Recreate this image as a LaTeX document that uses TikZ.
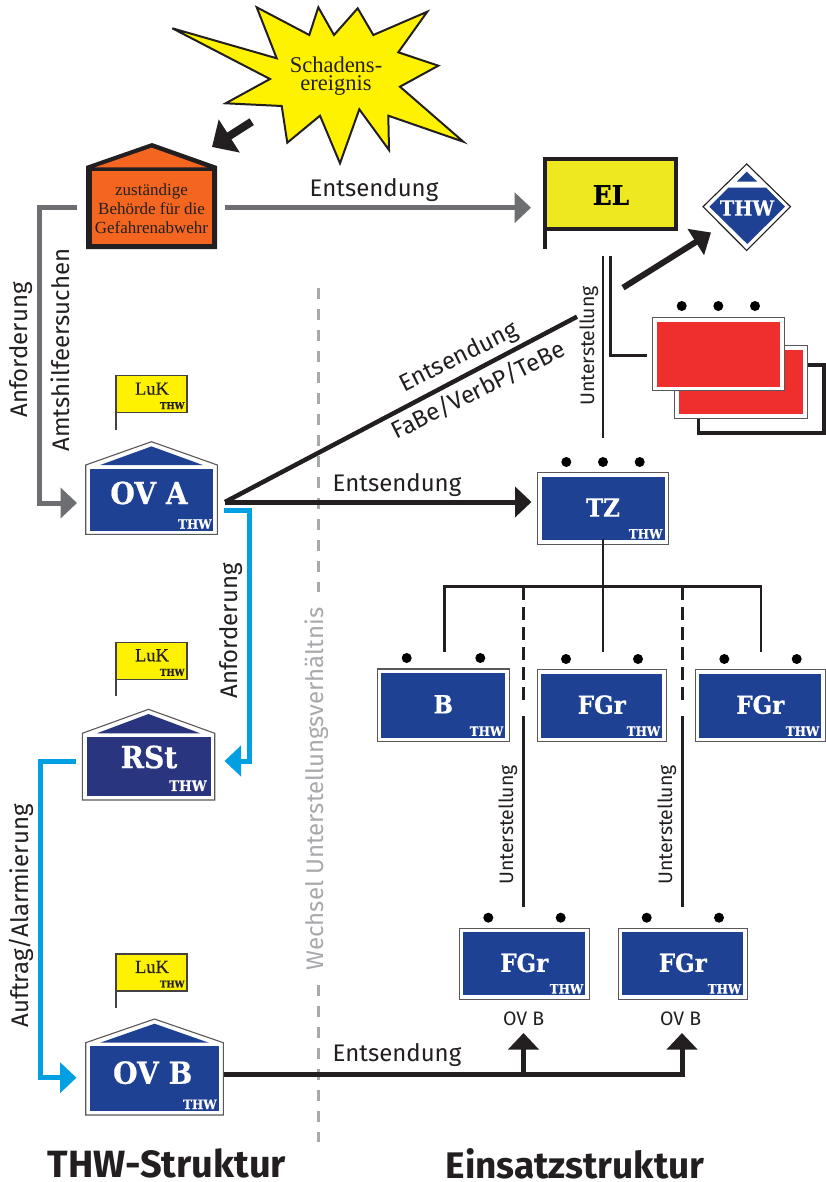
\documentclass[tikz,border=0pt]{standalone}
\usepackage{fontspec}
\usetikzlibrary{arrows.meta,calc}
\setmainfont{Fira Sans}
\newfontfamily\slabfont{DejaVu Serif}[FakeStretch=0.92,FakeBold=0.6]
\newfontfamily\bookfont{Liberation Serif}
\newfontfamily\lukfont{Liberation Serif}[FakeBold=0.25]
\newcommand{\fsz}[1]{\fontsize{#1}{#1}\selectfont}
\definecolor{ink}{HTML}{231F20}
\definecolor{thwblue}{HTML}{1F4194}
\definecolor{rstblue}{HTML}{2A3580}
\definecolor{greyline}{HTML}{6D6E71}
\definecolor{dashgrey}{HTML}{A7A9AC}
\definecolor{cyanline}{HTML}{00A0E3}
\definecolor{flagyellow}{HTML}{FFF200}
\definecolor{elyellow}{HTML}{EDE81F}
\definecolor{alarmred}{HTML}{EF2F2D}
\definecolor{orangefill}{HTML}{F4661F}
\tikzset{
  x=1pt,y=-1pt,
  every node/.style={inner sep=0pt,outer sep=0pt,text=ink},
  lbl/.style={font=\fsz{24},anchor=center},
  smalllbl/.style={font=\fsz{19.5},anchor=center},
  slab/.style={font=\slabfont\bfseries\fsz{#1},text=white,anchor=center},
  thwtag/.style={font=\slabfont\bfseries\fsz{13},text=white,anchor=east},
  thwarrow/.style={line width=#1,line cap=butt,line join=miter},
  tipbig/.style={-{Triangle[length=16.5pt,width=30pt]}},
  frameouter/.style={draw=ink!75,line width=1.1pt,fill=white},
  dotmark/.style={circle,fill=black,minimum size=10pt},
  greydash/.style={dashgrey,line width=3pt,dash pattern=on 11pt off 10pt},
  treeline/.style={ink,line width=2.8pt,line join=miter},
  treedash/.style={ink,line width=2.8pt,dash pattern=on 13pt off 7pt},
}
% centre x, centre y, width, height, name, label
\newcommand{\thwunit}[6]{%
  \node[frameouter,minimum width=#3pt,minimum height=#4pt] (#5) at (#1,#2) {};
  \node[fill=thwblue,minimum width=#3pt-8pt,minimum height=#4pt-8pt] (#5in) at (#1,#2) {};
  \node[slab=25] (#5lab) at ($(#5.center)+(0,-1)$) {#6};
  \node[thwtag] (#5tag) at ($(#5in.south east)+(-2,-6.5)$) {THW};
}
% centre x, apex y, eave y, bottom y, half width, name, colour
\newcommand{\thwhouse}[7]{%
  \draw[frameouter] (#1-#5,#3) -- (#1,#2) -- (#1+#5,#3) -- (#1+#5,#4) -- (#1-#5,#4) -- cycle;
  \fill[#7] (#1-#5+14.5,#3) -- (#1,#2+4.7) -- (#1+#5-14.5,#3) -- cycle;
  \path let \n1={#4-#3-7.4} in node[fill=#7,minimum width={(#5-4.2)*2*1pt},minimum height=\n1 pt] (#6) at (#1,{(#3+#4)/2}) {};
}
% left x, top y, name
\newcommand{\lukflag}[3]{%
  \draw[ink!85,line width=1.4pt] (#1,#2) -- (#1,#2+54);
  \node[draw=ink!85,line width=1.2pt,fill=flagyellow,anchor=north west,minimum width=71pt,minimum height=37pt] (#3) at (#1,#2) {};
  \node[font=\lukfont\fsz{18.5},anchor=center] at (#1+36,#2+13) {LuK};
  \node[font=\slabfont\bfseries\fsz{9.5},anchor=east] at (#1+68.5,#2+30) {THW};
}
\begin{document}
\begin{tikzpicture}
\useasboundingbox (0,0) rectangle (826,1182);
\fill[white] (0,0) rectangle (826,1182);

% centre dashed line
\coordinate (vtop) at (318,288);
\coordinate (vmid1) at (318,592);
\coordinate (vmid2) at (318,985);
\coordinate (vbot) at (318,1142);
\draw[greydash] (vtop) -- (vmid1);
\draw[greydash] (vmid2) -- (vbot);
\node[font=\fsz{24},text=dashgrey,rotate=90] (wechsel) at (317,789) {Wechsel Unterstellungsverhältnis};

% Star
\draw[ink,line width=2pt,fill=flagyellow,line join=miter]
 (172.3,28.3)--(276.7,58.3)--(256.7,7.3)--(309.3,35)--(318.3,7.3)--(334,35)--(357.7,8.3)--(373.3,35)
 --(427.3,11.7)--(398.3,52.3)--(438.3,65.7)--(400,86.7)--(463.3,141.7)--(388.3,115.7)--(389,150)
 --(359.3,109.3)--(340,163.3)--(320,115.7)--(287.3,142.7)--(281.7,106)--(225.7,103.3)--(270,79)--cycle;
\node[font=\bookfont\fsz{22.5},align=center] (schaden) at (336,76) {Schadens-\\[-4.5pt]ereignis};

% Behoerde house
\fill[ink] (86,166)--(152,143)--(217,166)--(217,249)--(86,249)--cycle;
\fill[orangefill] (95,167.3)--(151.7,147.7)--(206.7,167.3)--cycle;
\node[fill=orangefill,minimum width=120.6pt,minimum height=73.3pt] (beh) at (152,207.6) {};
\node[font=\bookfont\fsz{17},align=center] (behtxt) at (151.5,209) {zuständige\\[2pt]Behörde für die\\[2pt]Gefahrenabwehr};

% star -> Behoerde
\coordinate (sa) at (251.7,121.7);
\coordinate (sb) at (212,147);
\draw[ink,thwarrow=8pt,-{Triangle[length=20.5pt,width=38pt]}] (sa) -- (sb);

% EL flag
\draw[ink,line width=4pt] (544.7,220) -- (544.7,249);
\node[draw=ink,line width=4pt,fill=elyellow,minimum width=131pt,minimum height=70.5pt] (el) at (610.4,193.9) {};
\node[font=\slabfont\bfseries\fsz{27},text=black] (ellab) at (611,195) {EL};

% THW diamond
\draw[ink,line width=1.1pt,fill=white] (746.7,164)--(790.5,206.7)--(746.7,250.5)--(703,206.7)--cycle;
\fill[thwblue] (746.7,171.7)--(757.3,181.7)--(736.7,181.7)--cycle;
\fill[thwblue] (728.3,187.7)--(766,187.7)--(785,206.7)--(747.3,244)--(709.3,206.7)--cycle;
\node[font=\slabfont\bfseries\fsz{21},text=white] (thwd) at (747,208) {THW};

% Red units
\draw[ink,line width=3.5pt] (698.3,418) -- (698.3,433) -- (824,433) -- (824,365) -- (807,365);
\node[frameouter,minimum width=133pt,minimum height=72.6pt] (redb) at (740.8,382) {};
\node[fill=alarmred,minimum width=124pt,minimum height=64pt] (redbin) at (740.8,382) {};
\node[frameouter,minimum width=132pt,minimum height=73.4pt] (reda) at (718.3,354) {};
\node[fill=alarmred,minimum width=123pt,minimum height=65pt] (redain) at (718.3,354) {};
\node[dotmark] (rd1) at (681.7,306) {};
\node[dotmark] (rd2) at (718.3,306) {};
\node[dotmark] (rd3) at (755,306) {};

% TZ
\thwunit{603}{508.5}{131}{71.6}{tz}{TZ}
\node[dotmark] (tzd1) at (566.3,462) {};
\node[dotmark] (tzd2) at (603,462) {};
\node[dotmark] (tzd3) at (639.7,462) {};

% row units
\thwunit{443.3}{705.3}{132}{72.7}{b}{B}
\thwunit{601.8}{705.7}{129}{72}{fa}{FGr}
\thwunit{760.3}{705.7}{130}{72}{fb}{FGr}
\node[dotmark] at (406.7,658) {};
\node[dotmark] at (480.3,658) {};
\node[dotmark] at (566,659) {};
\node[dotmark] at (638,659) {};
\node[dotmark] at (724.3,659) {};
\node[dotmark] at (796.7,659) {};

% lower units
\thwunit{524.3}{963.8}{130}{71}{fc}{FGr}
\thwunit{682.8}{963.8}{129}{71}{fd}{FGr}
\node[dotmark] at (488.3,917.7) {};
\node[dotmark] at (560.7,917.7) {};
\node[dotmark] at (646.7,917.7) {};
\node[dotmark] at (719,917.7) {};
\node[smalllbl] (ovb1) at (523.7,1019) {OV B};
\node[smalllbl] (ovb2) at (680.7,1019) {OV B};

% Houses
\lukflag{116}{375.7}{lukA}
\thwhouse{151.5}{441.7}{465}{534.3}{65.8}{ova}{thwblue}
\node[slab=30.5] (ovalab) at (149,493) {OV A};
\node[thwtag] at (211.7,524) {THW};

\lukflag{116}{642.3}{lukR}
\thwhouse{148.5}{709.3}{733.3}{800}{66.2}{rst}{rstblue}
\node[slab=30.5] (rstlab) at (149,757) {RSt};
\node[thwtag,font=\slabfont\bfseries\fsz{14.5}] at (206.7,785.7) {THW};

\lukflag{116}{954}{lukB}
\thwhouse{154.5}{1019}{1042.7}{1115}{68.8}{ovbh}{thwblue}
\node[slab=30.5] (ovblab) at (152.7,1072.7) {OV B};
\node[thwtag] at (216.7,1104.3) {THW};

% Connectors
\coordinate (behR) at (225,207.7);
\coordinate (behL) at (77,207.5);
\coordinate (ovaL) at (77,503);
\coordinate (elL) at (531,207.7);
\draw[greyline,thwarrow=5pt,tipbig] (behR) -- (elL);
\draw[greyline,thwarrow=5pt,tipbig] (behL) -- (39.5,207.5) -- (39.5,503) -- (ovaL);

\coordinate (ovaR) at (225,502);
\coordinate (diagE) at (577,316.7);
\coordinate (tzL) at (531.5,502);
\draw[ink,thwarrow=4.5pt] (ovaR) -- (diagE);
\draw[ink,thwarrow=5pt,tipbig] (ovaR) -- (tzL);

\coordinate (ovaRb) at (223.5,510.5);
\coordinate (rstR) at (224.5,761);
\draw[cyanline,thwarrow=5pt,tipbig] (ovaRb) -- (249.3,510.5) -- (249.3,761) -- (rstR);
\coordinate (rstL) at (76,761);
\coordinate (ovbL) at (76.5,1077.7);
\draw[cyanline,thwarrow=5pt,tipbig] (rstL) -- (40,761) -- (40,1077.7) -- (ovbL);

\coordinate (ovbR) at (224,1074);
\coordinate (jn) at (523.5,1074);
\coordinate (fcU) at (523.5,1033);
\coordinate (fdU) at (682,1033);
\draw[ink,thwarrow=5pt,tipbig] (ovbR) -- (682,1074) -- (fdU);
\draw[ink,thwarrow=5pt,tipbig] (jn) -- (fcU);

\coordinate (dtail) at (623,287.7);
\coordinate (dtip) at (711,232.5);
\draw[ink,thwarrow=6pt,-{Triangle[length=18pt,width=30pt]}] (dtail) -- (dtip);

% EL-Unterstellung
\draw[ink,line width=2.6pt] (603,255.7) -- (603,437.7);
\draw[ink,line width=2.6pt] (610.3,255.7) -- (610.3,355.7) -- (647.3,355.7);

% TZ tree
\coordinate (jtop) at (603,586.7);
\draw[treeline] ([yshift=5.5pt]tz.south) -- (jtop);
\draw[treeline] (444.3,651.7) -- (444.3,586.7) -- (761,586.7) -- (761,651.7);
\draw[treeline] (jtop) -- (603,651.7);
\draw[treedash] (523.3,587) -- (523.3,706);
\draw[treedash] (682.3,587) -- (682.3,706);
\draw[treeline] (523.3,716) -- (523.3,906.7);
\draw[treeline] (682.3,716) -- (682.3,906.7);

% Labels
\node[lbl] (e1) at (374,190) {Entsendung};
\node[lbl] (e2) at (397,485) {Entsendung};
\node[lbl] (e3) at (397,1055) {Entsendung};
\node[lbl,rotate=26.5] (e4) at (459,358) {Entsendung};
\node[lbl,rotate=26.5] (e5) at (478,390) {FaBe/VerbP/TeBe};
\node[lbl,rotate=90] (a1) at (21,350) {Anforderung};
\node[lbl,rotate=90] (a2) at (60,350) {Amtshilfeersuchen};
\node[lbl,rotate=90] (a3) at (231,631) {Anforderung};
\node[lbl,rotate=90] (a4) at (21,916) {Auftrag/Alarmierung};
\node[smalllbl,rotate=90] (u1) at (589,346) {Unterstellung};
\node[smalllbl,rotate=90] (u2) at (508,825) {Unterstellung};
\node[smalllbl,rotate=90] (u3) at (667,825) {Unterstellung};
\node[font=\bfseries\fsz{38}] (t1) at (167,1163) {THW-Struktur};
\node[font=\bfseries\fsz{37}] (t2) at (575,1164) {Einsatzstruktur};
\end{tikzpicture}
\end{document}
